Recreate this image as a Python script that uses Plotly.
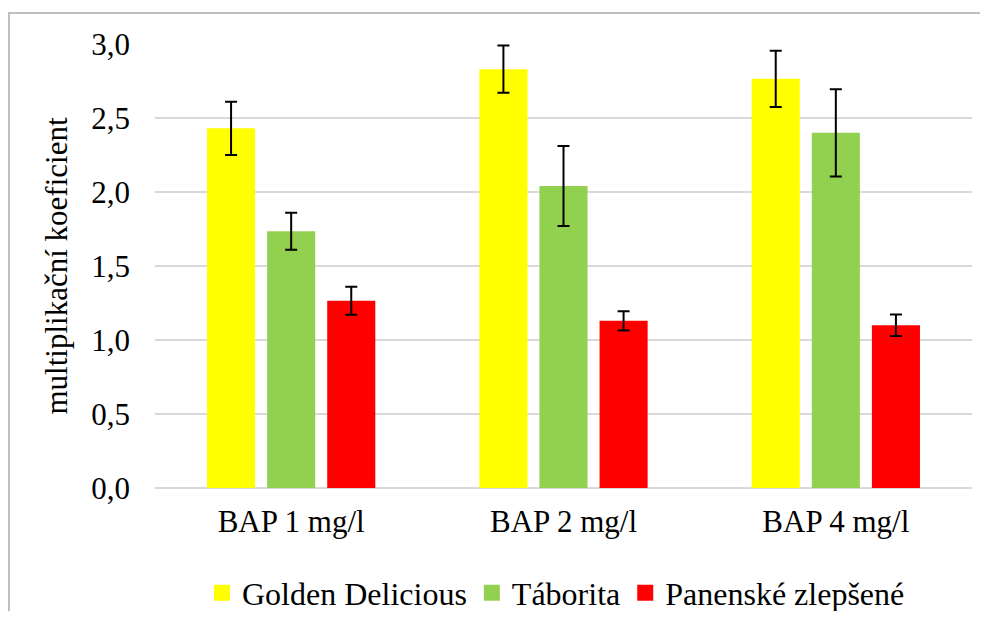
import plotly.graph_objects as go

categories = ["BAP 1 mg/l", "BAP 2 mg/l", "BAP 4 mg/l"]
series_names = ["Golden Delicious", "Táborita", "Panenské zlepšené"]
golden = [2.43, 2.83, 2.765]
golden_err = [0.18, 0.16, 0.19]
taborita = [1.735, 2.04, 2.40]
taborita_err = [0.125, 0.27, 0.295]
panenske = [1.265, 1.13, 1.10]
panenske_err = [0.095, 0.065, 0.073]
colors = ["#FFFF00", "#92D050", "#FF0000"]
y_ticks = [0.0, 0.5, 1.0, 1.5, 2.0, 2.5, 3.0]
y_ticklabels = ["0,0", "0,5", "1,0", "1,5", "2,0", "2,5", "3,0"]

FONT = "Liberation Serif"
FS = 31

fig = go.Figure()
all_vals = [golden, taborita, panenske]
all_errs = [golden_err, taborita_err, panenske_err]
for name, vals, errs, col in zip(series_names, all_vals, all_errs, colors):
    fig.add_trace(go.Bar(
        x=categories, y=vals, name=name, legendgroup=name, showlegend=False,
        marker=dict(color=col, line=dict(width=0)),
        error_y=dict(type="data", array=errs, visible=True,
                     color="black", thickness=2, width=6),
    ))
# legend entries (square swatches)
for name, col in zip(series_names, colors):
    fig.add_trace(go.Scatter(
        x=[categories[0]], y=[None], mode="markers", name=name, legendgroup=name,
        marker=dict(symbol="square", size=18, color=col, line=dict(width=0)),
        hoverinfo="skip",
    ))

# page body has an 8px margin -> figure is 972x603, drawn at (8,8)
W, H = 972, 603
L, R, T, B = 147, 8, 36, 123
pw = W - L - R
ph = H - T - B

def px_x(p):
    return (p - L) / pw

def px_y(p):
    return (H - B - p) / ph

fig.update_layout(
    width=W, height=H,
    margin=dict(l=L, r=R, t=T, b=B, autoexpand=False),
    paper_bgcolor="white", plot_bgcolor="white",
    barmode="group", bargap=0.338, bargroupgap=0.2,
    font=dict(family=FONT, size=FS, color="black"),
    showlegend=True,
    legend=dict(orientation="h", x=px_x(194), xanchor="left",
                y=px_y(585), yanchor="middle",
                font=dict(family=FONT, size=32, color="black"),
                itemclick=False, tracegroupgap=0, bgcolor="rgba(0,0,0,0)"),
    xaxis=dict(showgrid=False, showline=False, ticks="", automargin=False,
               tickfont=dict(family=FONT, size=FS, color="black"),
               ticklabelstandoff=12),
    yaxis=dict(range=[0, 3.0], tickvals=y_ticks, ticktext=y_ticklabels,
               showgrid=True, gridcolor="#D9D9D9", gridwidth=1.5,
               zeroline=True, zerolinecolor="#D9D9D9", zerolinewidth=1.5,
               showline=False, ticks="", automargin=False,
               tickfont=dict(family=FONT, size=FS, color="black"),
               ticklabelstandoff=24,
               title=dict(text="multiplikační koeficient",
                          font=dict(family=FONT, size=FS, color="black"),
                          standoff=14)),
    shapes=[dict(type="rect", xref="paper", yref="paper",
                 x0=px_x(1), x1=px_x(1010), y0=px_y(650), y1=px_y(5),
                 line=dict(color="#BFBFBF", width=2), fillcolor="rgba(0,0,0,0)",
                 layer="below")],
)

fig.write_html("out.html")
